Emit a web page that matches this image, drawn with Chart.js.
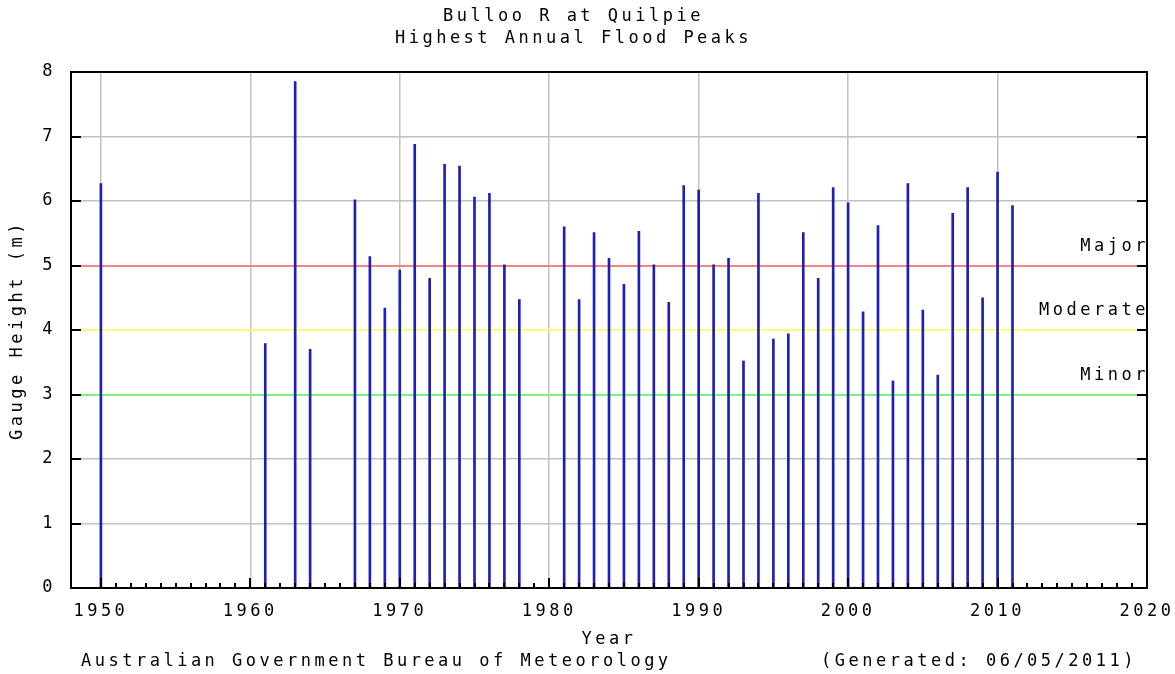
<!DOCTYPE html>
<html>
<head>
<meta charset="utf-8">
<title>Bulloo R at Quilpie - Highest Annual Flood Peaks</title>
<script src="https://cdn.jsdelivr.net/npm/chart.js@4.4.1/dist/chart.umd.min.js"></script>
<style>
  html, body { margin: 0; padding: 0; background: #fff; }
</style>
</head>
<body>
<canvas id="floodChart" width="1175" height="674"></canvas>
<script>
// flood peak per year (m)
const years = [1950, 1961, 1963, 1964, 1967, 1968, 1969, 1970, 1971, 1972, 1973, 1974,
  1975, 1976, 1977, 1978, 1981, 1982, 1983, 1984, 1985, 1986, 1987, 1988, 1989, 1990,
  1991, 1992, 1993, 1994, 1995, 1996, 1997, 1998, 1999, 2000, 2001, 2002, 2003, 2004,
  2005, 2006, 2007, 2008, 2009, 2010, 2011];
const peaks = [6.27, 3.79, 7.85, 3.70, 6.02, 5.14, 4.34, 4.93, 6.88, 4.80, 6.57, 6.54,
  6.06, 6.12, 5.01, 4.47, 5.60, 4.47, 5.51, 5.11, 4.71, 5.53, 5.01, 4.43, 6.24, 6.17,
  5.01, 5.11, 3.52, 6.12, 3.86, 3.94, 5.51, 4.80, 6.21, 5.97, 4.28, 5.62, 3.21, 6.27,
  4.31, 3.30, 5.81, 6.21, 4.50, 6.45, 5.93];

const xTicks = [1950, 1960, 1970, 1980, 1990, 2000, 2010, 2020];
const yTicks = [0, 1, 2, 3, 4, 5, 6, 7, 8];

// flood classification levels
const levelValues = [5, 4, 3];
const levelNames = ['Major', 'Moderate', 'Minor'];
const levelColours = ['#ff8080', '#ffff70', '#80f080'];

const FONT = "'DejaVu Sans Mono', monospace";
const font = { family: FONT, size: 17, lineHeight: 1.2 };
const gridColour = '#c2c2c2';

const decor = {
  id: 'gaugeDecor',
  beforeDraw(chart) {
    chart.ctx.letterSpacing = '3.5px';
  },
  beforeDatasetsDraw(chart) {
    const { ctx, chartArea: a, scales: { y } } = chart;
    ctx.save();
    ctx.lineWidth = 2;
    levelValues.forEach((v, i) => {
      const py = Math.round(y.getPixelForValue(v));
      ctx.strokeStyle = levelColours[i];
      ctx.beginPath();
      ctx.moveTo(a.left, py);
      ctx.lineTo(a.right, py);
      ctx.stroke();
    });
    ctx.restore();
  },
  afterDatasetsDraw(chart) {
    const { ctx, chartArea: a, scales: { x, y } } = chart;
    ctx.save();
    ctx.font = "17px " + FONT;
    ctx.fillStyle = '#000';
    ctx.textAlign = 'right';
    ctx.textBaseline = 'middle';
    levelValues.forEach((v, i) => {
      ctx.fillText(levelNames[i], a.right + 2, y.getPixelForValue(v) - 19);
    });

    // inward tick marks
    ctx.strokeStyle = '#000';
    ctx.lineWidth = 2;
    ctx.beginPath();
    yTicks.forEach(v => {
      const py = Math.round(y.getPixelForValue(v));
      ctx.moveTo(a.left, py); ctx.lineTo(a.left + 10, py);
      ctx.moveTo(a.right, py); ctx.lineTo(a.right - 10, py);
    });
    for (let yr = xTicks[0]; yr < xTicks[xTicks.length - 1]; yr++) {
      const px = Math.round(x.getPixelForValue(yr));
      const len = yr % 10 === 0 ? 10 : 5;
      ctx.moveTo(px, a.bottom); ctx.lineTo(px, a.bottom - len);
    }
    ctx.stroke();

    // frame
    ctx.strokeRect(a.left, a.top, a.right - a.left, a.bottom - a.top);

    // footer
    ctx.textBaseline = 'middle';
    ctx.textAlign = 'left';
    ctx.fillText('Australian Government Bureau of Meteorology', 81, 662);
    ctx.textAlign = 'right';
    ctx.fillText('(Generated: 06/05/2011)', 1137, 662);
    ctx.restore();
  }
};

new Chart(document.getElementById('floodChart'), {
  type: 'bar',
  data: {
    labels: years,
    datasets: [{
      data: peaks,
      backgroundColor: '#1e1eb8',
      borderWidth: 0,
      barThickness: 2
    }]
  },
  options: {
    responsive: false,
    animation: false,
    layout: { padding: { left: 0, right: 28, top: 0, bottom: 24 } },
    scales: {
      x: {
        type: 'linear',
        min: 1948,
        max: 2020,
        offset: false,
        afterBuildTicks: s => { s.ticks = xTicks.map(v => ({ value: v })); },
        afterFit: s => { s.height = 62; s.paddingLeft = 0; s.paddingRight = 0; },
        ticks: {
          font, color: '#000', padding: 13, autoSkip: false, maxRotation: 0,
          callback: v => String(v)
        },
        grid: { color: gridColour, lineWidth: 1.5, drawTicks: false, offset: false },
        border: { display: false },
        title: { display: true, text: 'Year', font, color: '#000', padding: 0 }
      },
      y: {
        min: 0,
        max: 8,
        afterBuildTicks: s => { s.ticks = yTicks.map(v => ({ value: v })); },
        afterFit: s => { s.width = 71; s.paddingTop = 0; s.paddingBottom = 0; },
        ticks: { font, color: '#000', padding: 15, callback: v => String(v) },
        grid: { color: gridColour, lineWidth: 1.5, drawTicks: false },
        border: { display: false },
        title: { display: true, text: 'Gauge Height (m)', font, color: '#000', padding: { top: 7 } }
      }
    },
    plugins: {
      legend: { display: false },
      tooltip: { enabled: false },
      title: {
        display: true,
        text: ['Bulloo R at Quilpie', 'Highest Annual Flood Peaks'],
        font: { family: FONT, size: 17, weight: 'normal', lineHeight: 22 / 17 },
        color: '#000',
        padding: { top: 6, bottom: 22 }
      }
    }
  },
  plugins: [decor]
});
</script>
</body>
</html>
